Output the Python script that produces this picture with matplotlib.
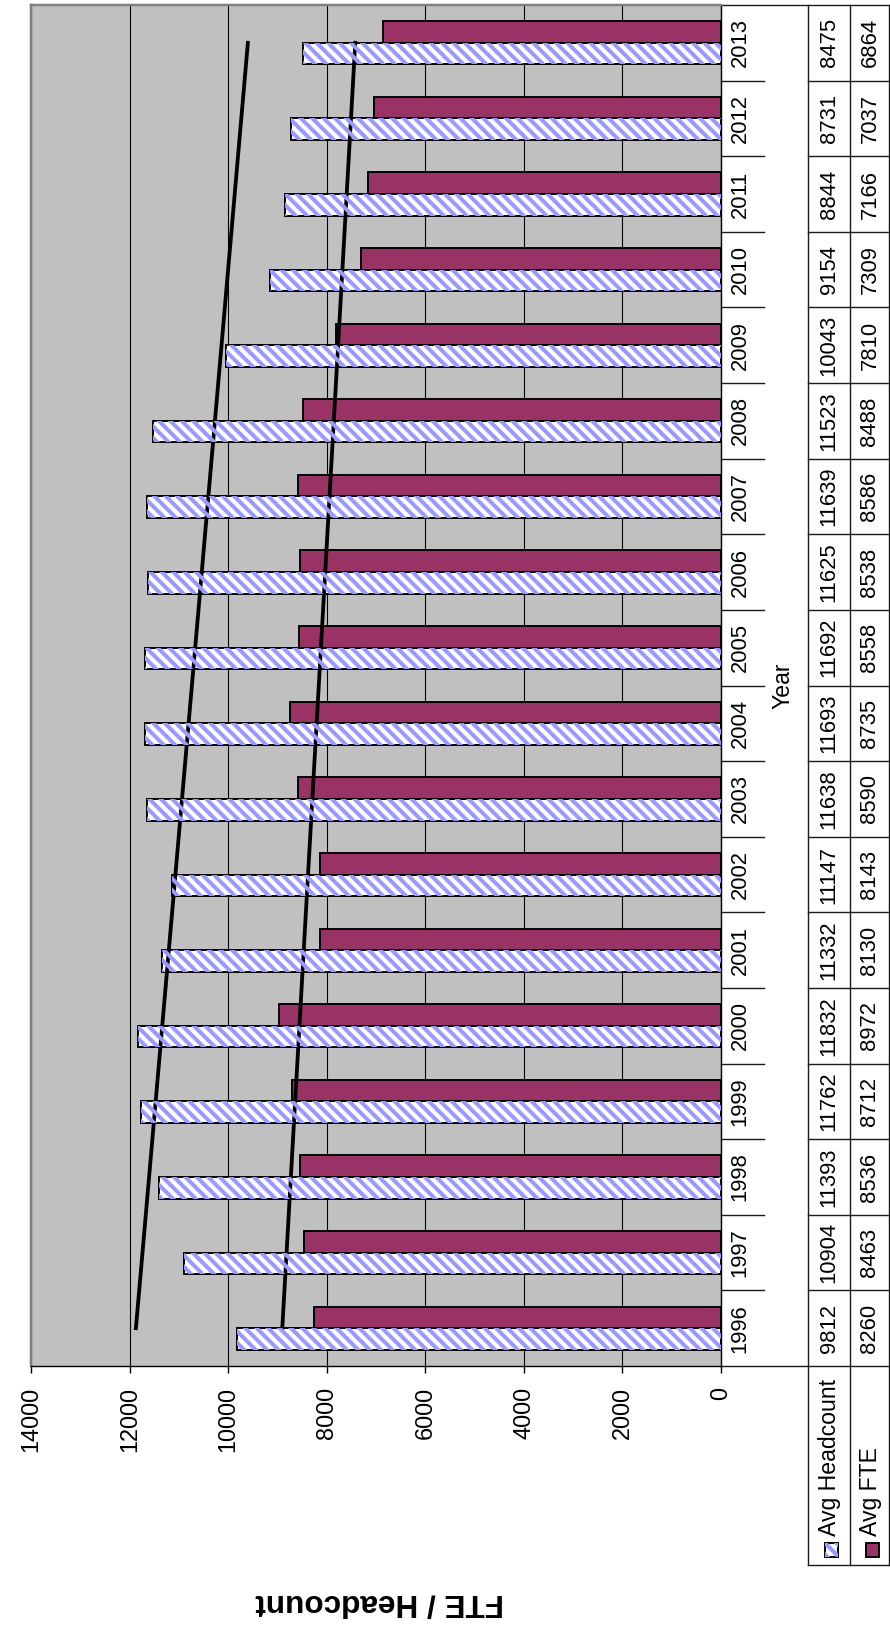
import numpy as np
import matplotlib.pyplot as plt
from matplotlib import transforms
from matplotlib.patches import Rectangle
from matplotlib.collections import LineCollection

DPI = 100
PX = 72 / DPI  # points per pixel

plt.rcParams['font.family'] = ['Liberation Sans', 'DejaVu Sans']

years = ['1996', '1997', '1998', '1999', '2000', '2001', '2002', '2003', '2004',
         '2005', '2006', '2007', '2008', '2009', '2010', '2011', '2012', '2013']
headcount = [9812, 10904, 11393, 11762, 11832, 11332, 11147, 11638, 11693,
             11692, 11625, 11639, 11523, 10043, 9154, 8844, 8731, 8475]
fte = [8260, 8463, 8536, 8712, 8972, 8130, 8143, 8590, 8735,
       8558, 8538, 8586, 8488, 7810, 7309, 7166, 7037, 6864]
value_ticks = [0, 2000, 4000, 6000, 8000, 10000, 12000, 14000]
series_names = ['Avg Headcount', 'Avg FTE']

HATCH_BLUE = '#9999FF'
PLUM = '#993366'
GRID_BG = '#C0C0C0'
STRIPE_GAP = 11.4   # px between diagonal stripes, measured horizontally
STRIPE_W = 4.0      # px stripe thickness

W, H = 890, 1630
fig = plt.figure(figsize=(W / DPI, H / DPI), dpi=DPI)
# plot area in pixels: x 31..721, y 5..1366
AX_W, AX_H = 690, 1361
ax = fig.add_axes([31 / W, 1 - 1366 / H, AX_W / W, AX_H / H])
ax.set_facecolor(GRID_BG)
ax.set_xlim(14000, 0)
ax.set_ylim(-0.5, len(years) - 0.5)

# diagonal "\" stripes in pixel space, clipped to each patch later
fb = fig.bbox
offsets = np.arange(fb.x0 + fb.y0, fb.x1 + fb.y1, STRIPE_GAP)
stripe_segs = [[(c - fb.y1, fb.y1), (c - fb.y0, fb.y0)] for c in offsets]


def add_stripes(patch, z):
    lc = LineCollection(stripe_segs, colors=HATCH_BLUE, linewidths=STRIPE_W * PX,
                        transform=transforms.IdentityTransform(), zorder=z)
    lc.set_clip_path(patch)
    fig.add_artist(lc)


idx = np.arange(len(years))
bw = 1 / 3.5  # gap width 150%

hc_bars = ax.barh(idx - bw / 2, headcount, height=bw, color='white',
                  linewidth=0, zorder=2)
for bar in hc_bars:
    add_stripes(bar, 2.5)
ax.barh(idx - bw / 2, headcount, height=bw, fill=False, edgecolor='black',
        linewidth=1.9 * PX, zorder=3)
ax.barh(idx + bw / 2, fte, height=bw, color=PLUM, edgecolor='black',
        linewidth=1.9 * PX, zorder=3)

# linear trend lines
for vals in (headcount, fte):
    k, b = np.polyfit(idx, vals, 1)
    ends = idx[[0, -1]]
    ax.plot(k * ends + b, ends, color='black', lw=3.8 * PX, zorder=4)

ax.set_xticks(value_ticks)
ax.set_xticklabels([str(v) for v in value_ticks])
ax.grid(axis='x', color='black', lw=1.1 * PX)
ax.set_axisbelow(True)
ax.tick_params(axis='x', direction='out', length=7 * PX, width=1.4 * PX,
               pad=14 * PX, labelsize=23.5 * PX, labelrotation=90)
ax.tick_params(axis='y', left=False, labelleft=False)
for s in ('left', 'top'):
    ax.spines[s].set_color('#808080')
    ax.spines[s].set_linewidth(2.5 * PX)
for s in ('right', 'bottom'):
    ax.spines[s].set_color('black')
    ax.spines[s].set_linewidth(1.4 * PX)

# data table to the right of the value axis zero line
tr = transforms.blended_transform_factory(ax.transAxes, ax.transData)
x0 = 1.0
x_lab = 1 + 43 / AX_W
x1 = 1 + 87 / AX_W
x2 = 1 + 129 / AX_W
x3 = 1 + 168 / AX_W
leg_bottom = -199 / AX_H
line_kw = dict(color='#1a1a1a', lw=1.4 * PX, clip_on=False)

top, bottom = len(years) - 0.5, -0.5
ax.plot([x0, x3], [top, top], transform=tr, **line_kw)
ax.plot([x0, x3], [bottom, bottom], transform=tr, **line_kw)
for edge in idx[:-1] + 0.5:
    ax.plot([x0, x_lab], [edge, edge], transform=tr, **line_kw)
    ax.plot([x1, x3], [edge, edge], transform=tr, **line_kw)
for xv in (x1, x2, x3):
    ax.plot([xv, xv], [1, leg_bottom], transform=ax.transAxes, **line_kw)
ax.plot([x1, x3], [leg_bottom, leg_bottom], transform=ax.transAxes, **line_kw)

cell_fs = 22 * PX
for i, yr in enumerate(years):
    ax.text(1 + 19 / AX_W, i, yr, transform=tr, rotation=90,
            ha='center', va='center', fontsize=cell_fs)
    ax.text(1 + 108 / AX_W, i, str(headcount[i]), transform=tr, rotation=90,
            ha='center', va='center', fontsize=cell_fs)
    ax.text(1 + 149 / AX_W, i, str(fte[i]), transform=tr, rotation=90,
            ha='center', va='center', fontsize=cell_fs)

ax.text(1 + 62 / AX_W, 0.5, 'Year', transform=ax.transAxes, rotation=90,
        ha='center', va='center', fontsize=23 * PX)

# legend keys inside the table
key_y = -191 / AX_H
key_h = 14 / AX_H
key_w = 13 / AX_W
k1 = Rectangle((794 / AX_W, key_y), key_w, key_h, transform=ax.transAxes,
               facecolor='white', lw=0, clip_on=False, zorder=2)
ax.add_patch(k1)
add_stripes(k1, 2.5)
k1b = Rectangle((794 / AX_W, key_y), key_w, key_h, transform=ax.transAxes,
                fill=False, edgecolor='black', lw=1.9 * PX, clip_on=False, zorder=3)
k2 = Rectangle((835 / AX_W, key_y), key_w, key_h, transform=ax.transAxes,
               facecolor=PLUM, edgecolor='black', lw=1.9 * PX, clip_on=False, zorder=3)
ax.add_patch(k1b)
ax.add_patch(k2)
text_y = -170 / AX_H
ax.text(1 + 109 / AX_W, text_y, series_names[0], transform=ax.transAxes,
        rotation=90, ha='center', va='bottom', fontsize=23 * PX)
ax.text(1 + 150 / AX_W, text_y, series_names[1], transform=ax.transAxes,
        rotation=90, ha='center', va='bottom', fontsize=23 * PX)

ax.text(349 / AX_W, -237 / AX_H, 'FTE / Headcount', transform=ax.transAxes,
        rotation=180, ha='center', va='center', fontsize=31.5 * PX,
        fontweight='bold')

fig.savefig('out.png', dpi=DPI)
